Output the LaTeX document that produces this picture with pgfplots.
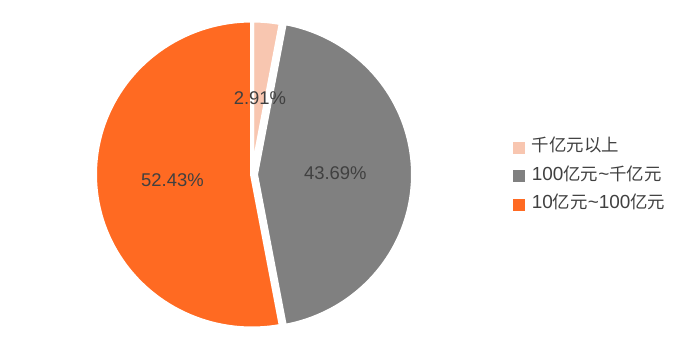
\documentclass[border=0pt]{standalone}
\usepackage{pgfplots}
\pgfplotsset{compat=1.18}
\usepackage{fontspec}
\setmainfont{Liberation Sans}
\newfontfamily\cjk[Scale=0.92]{Noto Sans CJK SC}
\definecolor{peach}{HTML}{F8C6B0}
\definecolor{pgray}{HTML}{808080}
\definecolor{porange}{HTML}{FF6A22}
\definecolor{txt}{HTML}{404040}
\newcommand\lf{\fontsize{19}{19}\selectfont}
\begin{document}
\begin{tikzpicture}
% data (percent shares)
\def\vA{2.91}\def\vB{43.69}\def\vC{52.43}
\pgfmathsetmacro\tot{\vA+\vB+\vC}
\pgfmathsetmacro\k{360/\tot}
\pgfmathsetmacro\aZero{90}
\pgfmathsetmacro\aOne{90-\k*\vA}
\pgfmathsetmacro\aTwo{\aOne-\k*\vB}
\pgfmathsetmacro\aThree{\aTwo-\k*\vC}
\def\cx{252}\def\cy{175.5}\def\rx{157}\def\ry{154}
\begin{axis}[scale only axis, width=690bp, height=350bp,
  xmin=0, xmax=690, ymin=0, ymax=350, hide axis, clip=false,
  legend image code/.code={\fill[#1, draw=none] (0bp,-6bp) rectangle (12bp,6bp);},
  legend cell align=left,
  legend style={at={(axis cs:512.7,210.7)}, anchor=north west, draw=none, fill=none,
    inner sep=0pt, column sep=7bp, row sep=12.7bp,
    nodes={inner sep=0pt, text height=12bp, text depth=4bp, text=txt, font=\lf}}]
\path (axis cs:0,0) (axis cs:690,350);
\addplot[forget plot, fill=peach, draw=white, line width=4bp, line join=round,
  domain=\aOne:\aZero, samples=30, variable=\t]
  ({\cx+\rx*cos(\t)}, {\cy+\ry*sin(\t)}) -- (axis cs:\cx,\cy) -- cycle;
\addplot[forget plot, fill=pgray, draw=white, line width=4bp, line join=round,
  domain=\aTwo:\aOne, samples=80, variable=\t]
  ({\cx+4+\rx*cos(\t)}, {\cy+\ry*sin(\t)}) -- (axis cs:\cx+4,\cy) -- cycle;
\addplot[forget plot, fill=porange, draw=white, line width=4bp, line join=round,
  domain=\aThree:\aTwo, samples=90, variable=\t]
  ({\cx+\rx*cos(\t)}, {\cy+\ry*sin(\t)}) -- (axis cs:\cx,\cy) -- cycle;
\node[text=txt, font=\fontsize{18.5}{18.5}\selectfont] at (axis cs:260,252) {2.91\%};
\node[text=txt, font=\fontsize{18.5}{18.5}\selectfont] at (axis cs:335.3,176.7) {43.69\%};
\node[text=txt, font=\fontsize{18.5}{18.5}\selectfont] at (axis cs:172.4,169.5) {52.43\%};
\addlegendimage{fill=peach}
\addlegendentry{\lf\cjk 千亿元以上}
\addlegendimage{fill=pgray}
\addlegendentry{\lf 100{\cjk 亿元}\char"007E{\cjk 千亿元}}
\addlegendimage{fill=porange}
\addlegendentry{\lf 10{\cjk 亿元}\char"007E 100{\cjk 亿元}}
\end{axis}
\end{tikzpicture}
\end{document}
